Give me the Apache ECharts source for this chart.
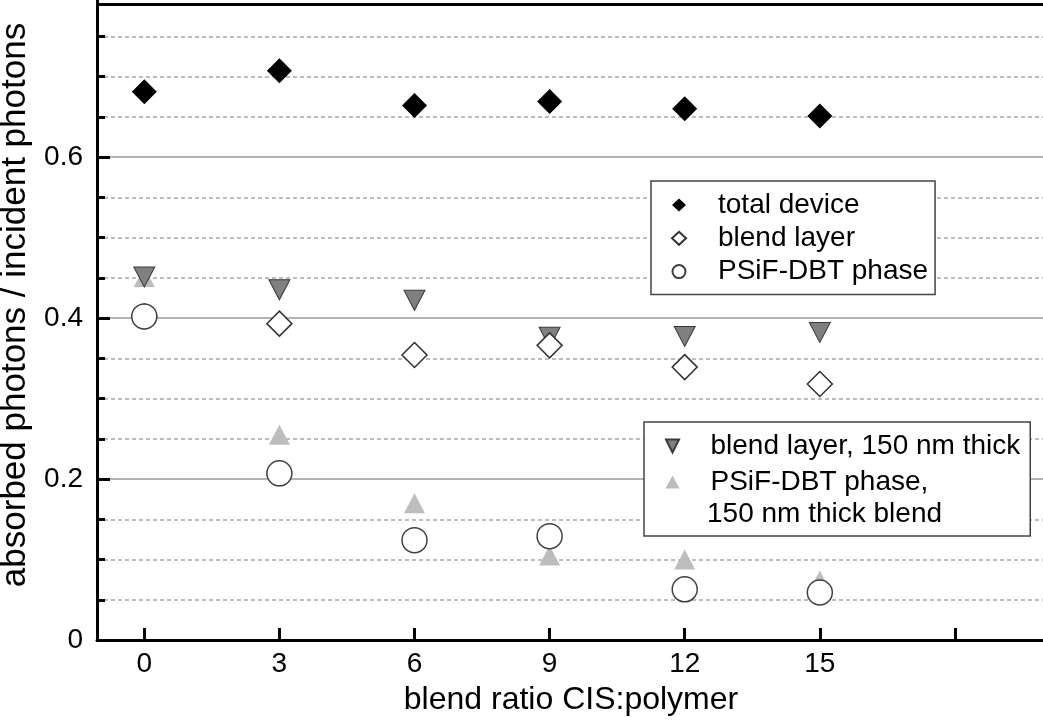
<!DOCTYPE html>
<html>
<head>
<meta charset="utf-8">
<script src="https://cdn.jsdelivr.net/npm/echarts@6/dist/echarts.min.js"></script>
<style>
  html, body { margin: 0; padding: 0; background: #fff; }
  #chart { width: 1043px; height: 720px; }
</style>
</head>
<body>
<div id="chart"></div>
<script>
// Blend ratio CIS:polymer and absorbed-photon fractions
const ratios = [0, 3, 6, 9, 12, 15];
const totalDevice = [0.681, 0.707, 0.664, 0.669, 0.660, 0.651];
const blendLayer = [0.402, 0.393, 0.354, 0.366, 0.339, 0.318];
const polymerPhase = [0.402, 0.207, 0.124, 0.129, 0.063, 0.059];
const blendLayerThick = [0.451, 0.435, 0.422, 0.376, 0.377, 0.382];
const polymerPhaseThick = [0.451, 0.255, 0.170, 0.105, 0.100, 0.074];

const xTickValues = [0, 3, 6, 9, 12, 15, 18];
const xLabelValues = [0, 3, 6, 9, 12, 15];
const frameTop = 0.79;

const FONT = 'Liberation Sans, Arial, sans-serif';
const pair = (ys) => ratios.map((x, i) => [x, ys[i]]);
const downTriangle = 'path://M0,0 L20,0 L10,20 Z';

const chart = echarts.init(document.getElementById('chart'), null, { renderer: 'canvas' });

const option = {
  animation: false,
  backgroundColor: '#fff',
  grid: {
    left: 97, right: -2, top: -4, bottom: 80,
    containLabel: false,
    outerBoundsMode: 'none'
  },
  xAxis: {
    type: 'value',
    min: -1.05,
    max: 20,
    axisLine: { onZero: false, lineStyle: { color: '#000', width: 3 } },
    axisTick: {
      show: true, inside: true, length: 12,
      lineStyle: { color: '#000', width: 3 },
      customValues: xTickValues
    },
    axisLabel: {
      customValues: xLabelValues,
      color: '#000', fontSize: 28, fontFamily: FONT, margin: 10
    },
    splitLine: { show: false },
    name: 'blend ratio CIS:polymer',
    nameLocation: 'middle',
    nameGap: 44,
    nameTextStyle: { color: '#000', fontSize: 32, fontFamily: FONT }
  },
  yAxis: {
    type: 'value',
    min: 0,
    max: 0.8,
    interval: 0.2,
    axisLine: { show: true, onZero: false, lineStyle: { color: '#000', width: 3 } },
    axisTick: { show: true, inside: true, length: 13, lineStyle: { color: '#000', width: 3 } },
    minorTick: { show: true, splitNumber: 4, length: 8, lineStyle: { color: '#000', width: 3 } },
    axisLabel: {
      color: '#000', fontSize: 28, fontFamily: FONT, margin: 14,
      showMaxLabel: false,
      formatter: (v) => (v === 0 ? '0' : v >= 0.79 ? '' : v.toFixed(1))
    },
    splitLine: { show: true, lineStyle: { color: '#9a9a9a', width: 1.5 } },
    minorSplitLine: { show: true, lineStyle: { color: '#a8a8a8', width: 1.5, type: [4, 3] } },
    name: 'absorbed photons / incident photons',
    nameLocation: 'middle',
    nameGap: 48,
    nameTextStyle: { color: '#000', fontSize: 35, fontFamily: FONT, padding: [0, 0, 0, 26] }
  },
  legend: [
    {
      orient: 'vertical',
      left: 651, top: 181,
      padding: [10, 7, 9, 20],
      itemGap: 5.3,
      itemWidth: 14, itemHeight: 13,
      backgroundColor: '#fff',
      borderColor: '#444', borderWidth: 1.5, borderRadius: 0,
      formatter: (name) => '{t|' + name + '}',
      textStyle: {
        color: '#000', fontSize: 28, fontFamily: FONT,
        rich: { t: { fontSize: 28, fontFamily: FONT, color: '#000', padding: [0, 0, 0, 27] } }
      },
      data: ['total device', 'blend layer', 'PSiF-DBT phase']
    },
    {
      orient: 'vertical',
      left: 644, top: 422,
      padding: [10, 10, 40, 21],
      itemGap: 8,
      itemWidth: 14, itemHeight: 13,
      backgroundColor: '#fff',
      borderColor: '#444', borderWidth: 1.5, borderRadius: 0,
      formatter: (name) => '{t|' + name + '}',
      textStyle: {
        color: '#000', fontSize: 28, fontFamily: FONT,
        rich: { t: { fontSize: 28, fontFamily: FONT, color: '#000', padding: [0, 0, 0, 26] } }
      },
      data: ['blend layer, 150 nm thick', 'PSiF-DBT phase,']
    }
  ],
  graphic: [
    {
      type: 'text',
      left: 707, top: 500, z: 100,
      style: { text: '150 nm thick blend', font: '28px ' + FONT, fill: '#000' }
    }
  ],
  series: [
    {
      name: 'PSiF-DBT phase,',
      type: 'scatter',
      symbol: 'triangle',
      symbolSize: [21, 20],
      itemStyle: { color: '#bdbdbd', borderWidth: 0, opacity: 1 },
      data: pair(polymerPhaseThick)
    },
    {
      name: 'blend layer, 150 nm thick',
      type: 'scatter',
      symbol: downTriangle,
      symbolSize: [21, 20],
      itemStyle: { color: '#808080', borderColor: '#3a3a3a', borderWidth: 1, opacity: 1 },
      data: pair(blendLayerThick)
    },
    {
      name: 'total device',
      type: 'scatter',
      symbol: 'diamond',
      symbolSize: [25, 25],
      itemStyle: { color: '#000', borderWidth: 0, opacity: 1 },
      data: pair(totalDevice),
      markLine: {
        silent: true,
        symbol: ['none', 'none'],
        label: { show: false },
        lineStyle: { color: '#000', width: 3, type: 'solid', opacity: 1 },
        emphasis: { disabled: true },
        data: [{ yAxis: frameTop }]
      }
    },
    {
      name: 'blend layer',
      type: 'scatter',
      symbol: 'diamond',
      symbolSize: [25, 25],
      itemStyle: { color: '#fff', borderColor: '#333', borderWidth: 1.5, opacity: 1 },
      data: pair(blendLayer)
    },
    {
      name: 'PSiF-DBT phase',
      type: 'scatter',
      symbol: 'circle',
      symbolSize: 25,
      itemStyle: { color: '#fff', borderColor: '#404040', borderWidth: 1.5, opacity: 1 },
      data: pair(polymerPhase)
    }
  ]
};

chart.setOption(option);
</script>
</body>
</html>
